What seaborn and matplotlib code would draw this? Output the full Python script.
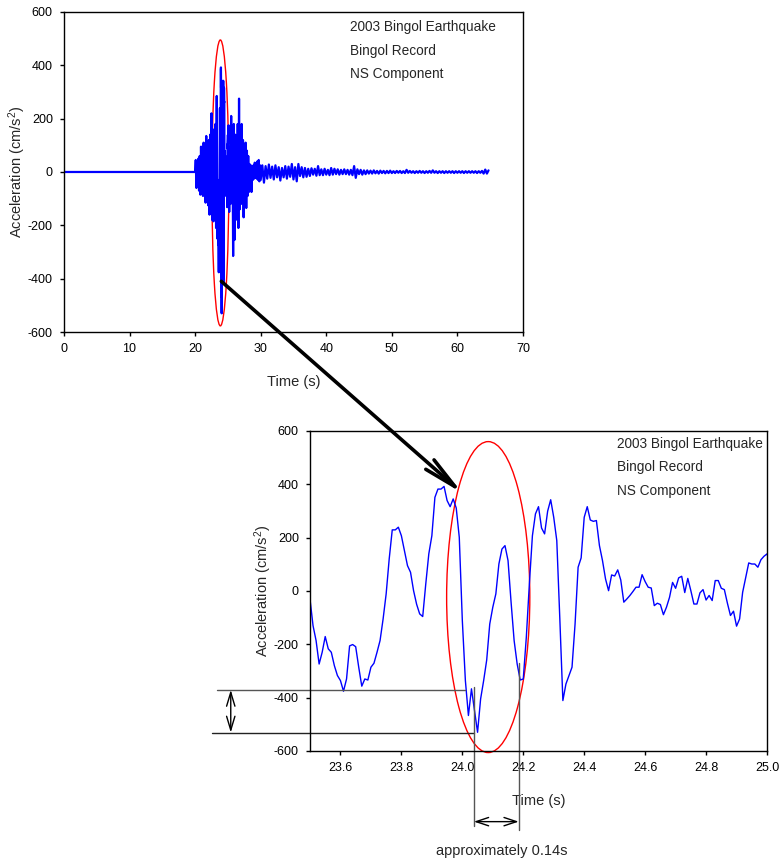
"""
Bingol 2003 earthquake record: full NS accelerogram plus zoom on the peak.
"""

import numpy as np
import matplotlib
matplotlib.use('Agg')
import matplotlib.pyplot as plt
from matplotlib.patches import Ellipse, ConnectionPatch
import seaborn as sns

# ── Style ─────────────────────────────────────────────────────────────────────
sns.set_style('ticks')
plt.rcParams['font.family']      = ['Liberation Sans', 'DejaVu Sans']
plt.rcParams['mathtext.default'] = 'regular'
plt.rcParams['axes.unicode_minus'] = False
plt.rcParams['axes.edgecolor']   = 'black'
plt.rcParams['axes.linewidth']   = 1.0

LINE_COLOR = '#0000FF'
RING_COLOR = '#FF0000'
DIM_COLOR  = '#555555'
INFO_LINES = ['2003 Bingol Earthquake', 'Bingol Record', 'NS Component']
Y_LABEL    = r'Acceleration (cm/s$^2$)'
X_LABEL    = 'Time (s)'

# ── Data ──────────────────────────────────────────────────────────────────────
# quiet pre-event part
T_PRE   = [0.0, 20.0]
ACC_PRE = [0, 0]

# onset, 20.1 s .. 23.4 s, peak values every 0.1 s
ONSET_T0, ONSET_DT = 20.1, 0.1
ACC_ONSET = [45, -60, 38, -45, 50, -70, 60, -85, 95, -55,
             75, -90, 110, -70, 85, -115, 135, -100, 90, -125,
             120, -160, 140, -110, 220, -180, 160, -185, 120, -150,
             180, -210, 285, -250]

# zoom window, 23.5 s .. 25.0 s, sampled every 0.01 s
ZOOM_T0, ZOOM_DT = 23.5, 0.01
ACC_ZOOM = [-30, -130, -186, -274, -230, -171, -217, -230, -280, -317,
            -336, -376, -330, -206, -201, -209, -286, -357, -330, -334,
            -286, -271, -230, -186, -105, -11, 120, 229, 229, 239,
            207, 150, 95, 70, 1, -50, -86, -96, 26, 139,
            207, 351, 382, 382, 392, 339, 316, 345, 311, 201,
            -111, -336, -467, -367, -450, -530, -405, -336, -259, -124,
            -61, -11, 101, 157, 170, 114, -42, -186, -274, -334,
            -330, -174, 26, 207, 289, 316, 236, 214, 299, 342,
            276, 189, -105, -411, -349, -317, -286, -124, 89, 124,
            276, 316, 266, 261, 264, 170, 114, 45, 1, 60,
            56, 79, 41, -42, -30, -17, -2, 14, 14, 61,
            35, 14, 11, -55, -46, -51, -89, -61, -24, 32,
            10, 49, 55, -6, 47, 1, -49, -49, -7, 5,
            -34, -17, -36, 39, 39, 10, 5, -46, -92, -76,
            -132, -105, -5, 51, 105, 101, 101, 89, 117, 130,
            139, 107]

# strong-motion coda, 25.1 s .. 30.0 s, peak values every 0.1 s
CODA_T0, CODA_DT = 25.1, 0.1
ACC_CODA = [175, -150, 90, -120, 210, -90, 150, -315, 180, -255,
            140, -180, 120, -150, 180, -210, 275, -140, 170, -120,
            180, -105, 120, -170, 90, -120, 110, -135, 80, -90,
            60, -75, 30, -40, 25, -75, 15, -30, 25, -25,
            35, -20, 30, -25, 40, -30, 45, -35, 25, -30]

# weak tail, 30.25 s .. 64.75 s, peak values every 0.25 s
TAIL_T0, TAIL_DT = 30.25, 0.25
ACC_TAIL = [25, -40, 22, -25, 28, -22, 20, -28, 25, -20,
            18, -32, 15, -20, 22, -25, 20, -18, 30, -28,
            18, -35, 30, -15, 18, -20, 15, -18, 12, -15,
            14, -10, 12, -14, 22, -12, 10, -12, 12, -10,
            8, -12, 15, -10, 12, -8, 10, -10, 8, -8,
            10, -8, 8, -10, 8, -12, 22, -22, 10, -8,
            8, -10, 6, -8, 6, -6, 5, -6, 6, -5,
            4, -6, 5, -4, 4, -5, 4, -4, 5, -4,
            3, -4, 4, -3, 4, -4, 3, -4, 8, -3,
            4, -3, 3, -4, 3, -3, 4, -3, 3, -4,
            3, -3, 4, -3, 6, -3, 3, -4, 3, -3,
            3, -4, 3, -3, 3, -3, 3, -4, 3, -3,
            3, -3, 3, -4, 3, -3, 3, -3, 3, -3,
            3, -4, 3, -3, 4, -6, 9, -6, 6]

TOP_XTICKS = [0, 10, 20, 30, 40, 50, 60, 70]
BOT_XTICKS = [23.6, 23.8, 24.0, 24.2, 24.4, 24.6, 24.8, 25.0]
YTICKS     = [-600, -400, -200, 0, 200, 400, 600]


def grid(t0, dt, values):
    return t0 + dt * np.arange(len(values))


t_zoom = grid(ZOOM_T0, ZOOM_DT, ACC_ZOOM)
t_full = np.concatenate([T_PRE,
                         grid(ONSET_T0, ONSET_DT, ACC_ONSET),
                         t_zoom,
                         grid(CODA_T0, CODA_DT, ACC_CODA),
                         grid(TAIL_T0, TAIL_DT, ACC_TAIL)])
a_full = np.concatenate([ACC_PRE, ACC_ONSET, ACC_ZOOM, ACC_CODA, ACC_TAIL])


def style_axes(ax, xticks, xfmt):
    ax.set_yticks(YTICKS)
    ax.set_ylim(-600, 600)
    ax.set_xticks(xticks)
    ax.set_xticklabels([xfmt.format(v) for v in xticks])
    ax.tick_params(direction='out', length=3, width=1, labelsize=9, pad=5,
                   colors='black')
    ax.set_xlabel(X_LABEL, fontsize=10.5, labelpad=14)
    ax.set_ylabel(Y_LABEL, fontsize=10.5, labelpad=0)
    for sp in ax.spines.values():
        sp.set_visible(True)
        sp.set_color('black')


def add_info(ax, x0, y0, step):
    for i, line in enumerate(INFO_LINES):
        ax.text(x0, y0 - i * step, line, transform=ax.transAxes,
                fontsize=9.8, va='center', ha='left')


fig = plt.figure(figsize=(7.81, 8.61), dpi=100)
ax1 = fig.add_axes([0.0819, 0.6144, 0.5877, 0.3717])
ax2 = fig.add_axes([0.3969, 0.1278, 0.5852, 0.3717])

# ── Full record ───────────────────────────────────────────────────────────────
sns.lineplot(x=t_full, y=a_full, ax=ax1, color=LINE_COLOR, lw=1.6,
             estimator=None, sort=False)
ax1.set_xlim(0, 70)
style_axes(ax1, TOP_XTICKS, '{:d}')
add_info(ax1, 0.623, 0.953, 0.074)
ax1.add_patch(Ellipse((23.85, -41), 2.58, 1072, fill=False,
                      edgecolor=RING_COLOR, lw=1.0, clip_on=False))

# ── Zoomed window ─────────────────────────────────────────────────────────────
sns.lineplot(x=t_zoom, y=ACC_ZOOM, ax=ax2, color=LINE_COLOR, lw=1.0,
             estimator=None, sort=False)
ax2.set_xlim(23.5, 25.0)
style_axes(ax2, BOT_XTICKS, '{:.1f}')
add_info(ax2, 0.672, 0.959, 0.073)
ax2.add_patch(Ellipse((24.085, -23), 0.273, 1166, fill=False,
                      edgecolor=RING_COLOR, lw=1.0, clip_on=False))

# dimension lines: amplitude step and duration of the pulse
ax2.plot([23.196, 24.008], [-371, -371], color=DIM_COLOR, lw=1.0, clip_on=False)
ax2.plot([23.180, 24.039], [-531, -531], color='#222222', lw=1.0, clip_on=False)
ax2.plot([24.038, 24.038], [-359, -880], color=DIM_COLOR, lw=1.0, clip_on=False)
ax2.plot([24.185, 24.185], [-271, -896], color=DIM_COLOR, lw=1.0, clip_on=False)
ax2.annotate('', xy=(23.24, -371), xytext=(23.24, -531),
             arrowprops=dict(arrowstyle='<->,head_length=1.0,head_width=0.3',
                             color='black', lw=1.0, shrinkA=0, shrinkB=0),
             annotation_clip=False)
ax2.annotate('', xy=(24.038, -865), xytext=(24.185, -865),
             arrowprops=dict(arrowstyle='<->,head_length=0.9,head_width=0.3',
                             color='black', lw=1.0, shrinkA=0, shrinkB=0),
             annotation_clip=False)
ax2.text(24.131, -975, 'approximately 0.14s', fontsize=10.5,
         ha='center', va='center', clip_on=False)

# big arrow from the peak in the full record to the zoomed window
con = ConnectionPatch(xyA=(24.0, -410), coordsA=ax1.transData,
                      xyB=(24.0, 367), coordsB=ax2.transData,
                      arrowstyle='->,head_length=2.4,head_width=0.45',
                      mutation_scale=10, lw=2.6, color='black',
                      shrinkA=0, shrinkB=0)
fig.add_artist(con)

fig.savefig('out.png', dpi=100)
plt.close(fig)
